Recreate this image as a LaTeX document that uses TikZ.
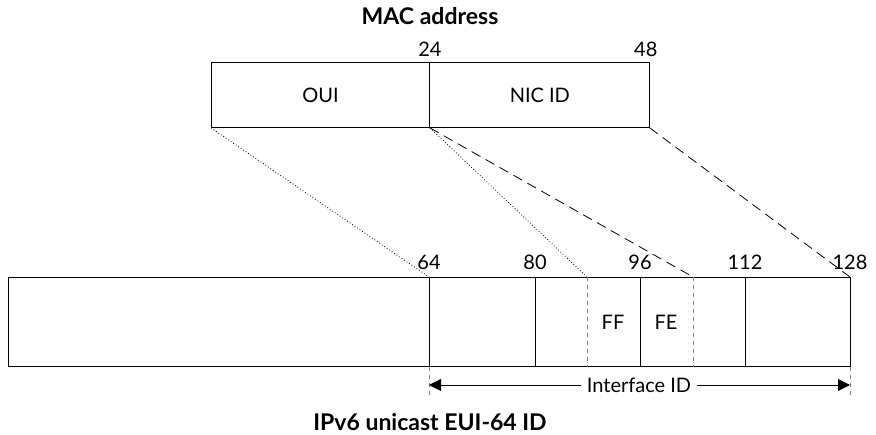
\documentclass[tikz,border=0pt]{standalone}
\usepackage{fontspec}
\setmainfont{Lato}
\usetikzlibrary{arrows.meta, positioning, calc}

\begin{document}
\begin{tikzpicture}[x=1pt, y=-1pt, line width=0.9pt, font=\fontsize{20}{22}\selectfont]
    \useasboundingbox (0,0) rectangle (876,435);
    \tikzset{
        field/.style={draw, minimum height=65pt, inner sep=0pt, anchor=north west},
        bit/.style={anchor=base, inner sep=0pt},
        title/.style={anchor=base, font=\fontsize{23}{25}\selectfont\bfseries},
        split/.style={draw=gray, line width=0.6pt, dash pattern=on 4pt off 4pt},
        dotmap/.style={line width=0.8pt, dash pattern=on 0.8pt off 2.2pt},
        dashmap/.style={line width=0.8pt, dash pattern=on 10pt off 6pt},
    }

    % MAC address
    \node[title] (mac) at (430,25) {MAC address};
    \node[field, minimum width=218pt] (oui) at (211,62) {OUI};
    \node[field, draw=none, minimum width=219pt] (nic) at (oui.north east) {NIC ID};
    \draw (oui.north east) -| (nic.south east) -- (oui.south east);
    \node[bit] (b24) at ($(oui.north east)+(0,-5)$) {24};
    \node[bit] (b48) at ($(nic.north east)+(-4,-5)$) {48};

    % IPv6 address
    \node[field, minimum width=842pt, minimum height=89pt] (ipv6) at (8,277) {};
    \foreach \b/\x in {64/429, 80/535, 96/640, 112/745, 128/850} {
        \coordinate (t\b) at (\x,277);
        \node[bit] (b\b) at (\x,270) {\b};
    }
    \foreach \b in {64, 80, 96, 112}
        \draw (t\b) -- (t\b |- ipv6.south);
    \coordinate (t88) at (587,277);
    \coordinate (t104) at (693,277);
    \draw[split] (t88) -- (t88 |- ipv6.south);
    \draw[split] (t104) -- (t104 |- ipv6.south);
    \node (ff) at (613,322) {FF};
    \node (fe) at (666,322) {FE};

    % Mapping
    \draw[dotmap] (oui.south west) -- (t64);
    \draw[dotmap] (oui.south east) -- (t88);
    \draw[dashmap] (nic.south west) -- (t104);
    \draw[dashmap] (nic.south east) -- (t128);

    % Interface ID
    \coordinate (l) at (429,385);
    \coordinate (r) at (850,385);
    \draw[split] (t64 |- ipv6.south) -- ++(0,32);
    \draw[split] (t128 |- ipv6.south) -- ++(0,32);
    \node[inner sep=0pt, minimum width=116pt, minimum height=20pt] (iid) at (639,385) {Interface ID};
    \draw[-{Triangle[length=12pt, width=12pt]}] (iid) -- (l);
    \draw[-{Triangle[length=12pt, width=12pt]}] (iid) -- (r);

    \node[title] (eui) at (430,431) {IPv6 unicast EUI-64 ID};
\end{tikzpicture}
\end{document}
